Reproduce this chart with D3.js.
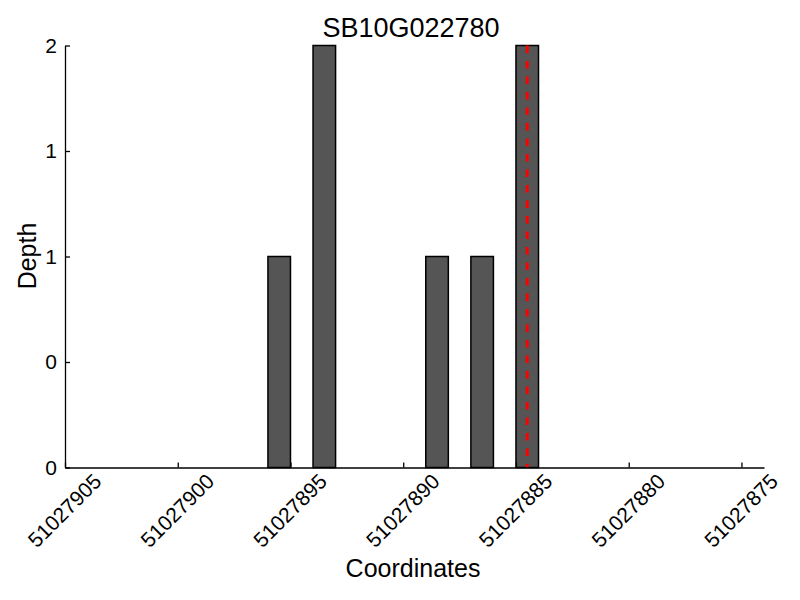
<!DOCTYPE html>
<html>
<head>
<meta charset="utf-8">
<title>SB10G022780</title>
<script src="https://d3js.org/d3.v7.min.js"></script>
<style>
body {margin:0; background:white;}
svg {font-family: "Liberation Sans", Arial, sans-serif;}
.axis path, .axis line {stroke:black; stroke-width:1.3;}
.axis text {font-size:21px; fill:black;}
</style>
</head>
<body>
<svg width="800" height="600"></svg>
<script>
// bar start coordinates (each bar covers one base) and depth
var starts = [51027895, 51027893, 51027888, 51027886, 51027884];
var depths = [1, 2, 1, 1, 2];
var marker = [51027884.5];

var xTicks = [51027905, 51027900, 51027895, 51027890, 51027885, 51027880, 51027875];
var yTicks = [0, 0.5, 1, 1.5, 2];
var yTickLabels = ["0", "0", "1", "1", "2"];

var plotLeft = 65, plotRight = 764, plotTop = 45.5, plotBottom = 467.5;

var svg = d3.select("svg");

var x = d3.scaleLinear().domain([51027905, 51027874]).range([plotLeft, plotRight]);
var y = d3.scaleLinear().domain([0, 2]).range([plotBottom, plotTop]);

// bars
svg.append("g")
  .selectAll("rect")
  .data(starts)
  .enter()
  .append("rect")
    .attr("x", function(d) { return x(d + 1); })
    .attr("width", function(d) { return x(d) - x(d + 1); })
    .attr("y", function(d, i) { return y(depths[i]); })
    .attr("height", function(d, i) { return y(0) - y(depths[i]); })
    .attr("fill", "#555555")
    .attr("stroke", "black")
    .attr("stroke-width", 1.5);

// position marker
svg.append("g")
  .selectAll("line")
  .data(marker)
  .enter()
  .append("line")
    .attr("x1", function(d) { return x(d); })
    .attr("x2", function(d) { return x(d); })
    .attr("y1", y(2))
    .attr("y2", y(0))
    .attr("stroke", "red")
    .attr("stroke-width", 3)
    .attr("stroke-dasharray", "7.5,8");

// axes
var xAxis = d3.axisBottom(x)
  .tickValues(xTicks)
  .tickFormat(d3.format("d"))
  .tickSizeInner(-5)
  .tickSizeOuter(0);
var gx = svg.append("g")
  .attr("class", "axis")
  .attr("transform", "translate(0," + plotBottom + ")")
  .call(xAxis);
gx.selectAll("text")
  .attr("x", 0)
  .attr("y", 0)
  .attr("dy", null)
  .attr("text-anchor", "middle")
  .attr("dominant-baseline", "central")
  .attr("transform", "translate(-1,43) rotate(-45)");

var yAxis = d3.axisLeft(y)
  .tickValues(yTicks)
  .tickFormat(function(d, i) { return yTickLabels[i]; })
  .tickSizeInner(-5)
  .tickSizeOuter(0)
  .tickPadding(8);
svg.append("g")
  .attr("class", "axis")
  .attr("transform", "translate(" + plotLeft + ",0)")
  .call(yAxis);

// titles
svg.append("text")
  .attr("x", 411)
  .attr("y", 36.5)
  .attr("text-anchor", "middle")
  .style("font-size", "27px")
  .text("SB10G022780");

svg.append("text")
  .attr("x", 413)
  .attr("y", 576.5)
  .attr("text-anchor", "middle")
  .style("font-size", "25px")
  .text("Coordinates");

svg.append("text")
  .attr("transform", "translate(36,256) rotate(-90)")
  .attr("text-anchor", "middle")
  .style("font-size", "25px")
  .text("Depth");
</script>
</body>
</html>
